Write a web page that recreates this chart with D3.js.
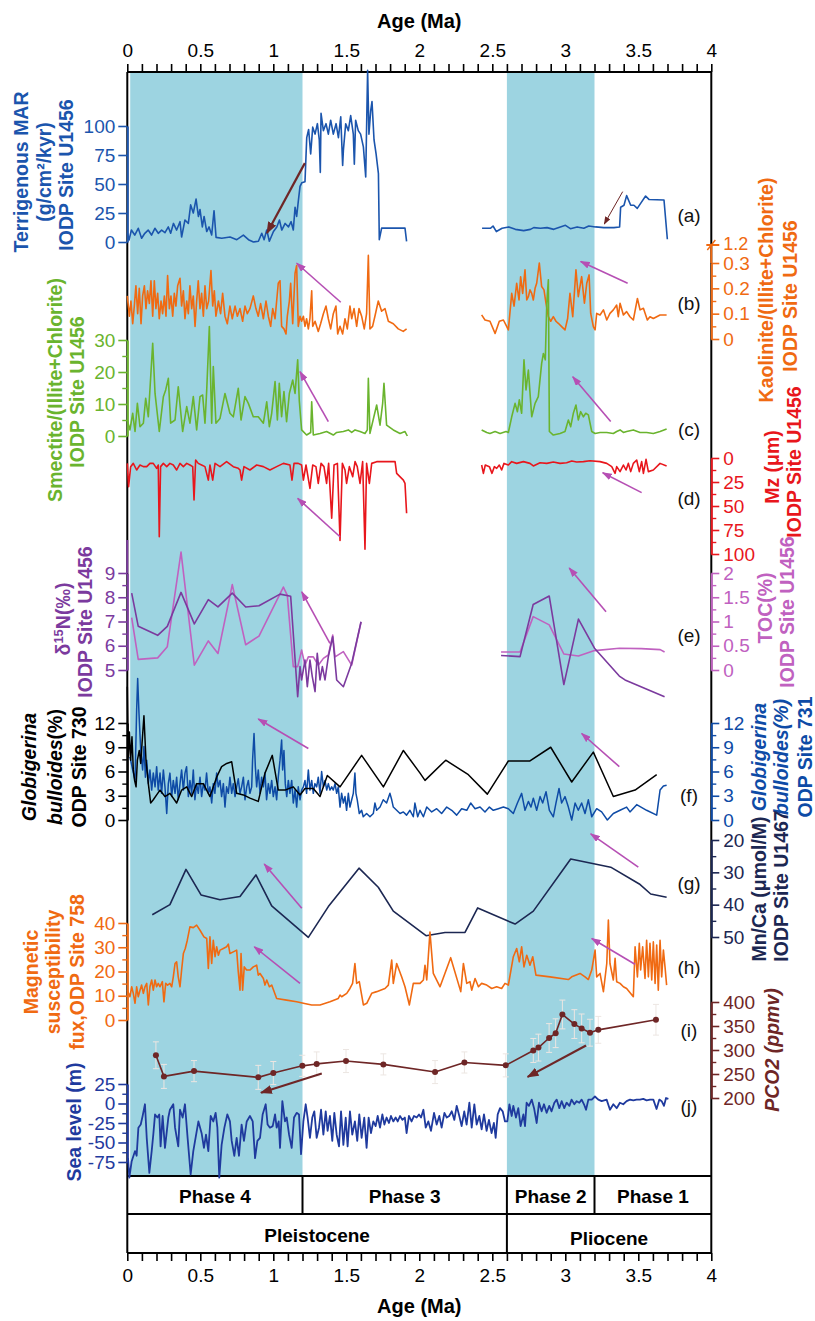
<!DOCTYPE html>
<html lang="en">
<head>
<meta charset="utf-8">
<title>Multi-proxy records vs Age (Ma)</title>
<script src="https://cdn.jsdelivr.net/npm/d3@7"></script>
<style>
  body { margin: 0; background: #fff; }
</style>
</head>
<body>
<div id="chart"></div>
<script>
// ---------- data ----------
var ageLabels = [0, 0.5, 1, 1.5, 2, 2.5, 3, 3.5, 4];
var shadeRanges = [[0.02, 1.2], [2.6, 3.2]];
var phaseNames = ["Phase 4", "Phase 3", "Phase 2", "Phase 1"];
var phaseBounds = [[0, 1.2], [1.2, 2.6], [2.6, 3.2], [3.2, 4]];
var epochNames = ["Pleistocene", "Pliocene"];
var epochBounds = [[0, 2.6], [2.6, 4]];
var panelLetters = ["(a)", "(b)", "(c)", "(d)", "(e)", "(f)", "(g)", "(h)", "(i)", "(j)"];

// (a) terrigenous MAR, IODP U1456
var marA1 = [[0,7.5],[0.012,1.7],[0.028,10.3],[0.051,6],[0.075,11.8],[0.098,3.2],[0.12,7.5],[0.143,10.3],[0.166,6],[0.189,11.8],[0.212,7.5],[0.235,10.3],[0.258,8],[0.281,13],[0.297,7.5],[0.316,16],[0.338,10.3],[0.361,17.5],[0.372,4.3],[0.395,19],[0.418,16],[0.434,32],[0.452,25],[0.471,37],[0.487,22],[0.498,28],[0.514,13],[0.526,22],[0.544,9],[0.56,13],[0.578,6],[0.594,27],[0.608,4],[0.647,3.2],[0.704,4.3],[0.75,2],[0.795,6],[0.83,2],[0.864,0],[0.898,0.6],[0.921,7.5],[0.937,2],[0.955,10.3],[0.973,0.6],[1.001,9],[1.024,13],[1.042,19],[1.058,10.3],[1.081,16],[1.104,13],[1.122,17.5],[1.137,10.3],[1.149,30],[1.16,22],[1.172,36],[1.183,48],[1.195,51],[1.217,52],[1.229,90],[1.242,97],[1.256,76],[1.27,99],[1.286,93],[1.302,102],[1.315,88],[1.322,60],[1.327,111],[1.343,96],[1.361,102],[1.377,93],[1.393,105],[1.411,93],[1.43,102],[1.446,90],[1.462,108],[1.475,66],[1.48,79],[1.496,102],[1.514,96],[1.53,109],[1.548,93],[1.555,67],[1.564,105],[1.582,96],[1.598,93],[1.617,82],[1.633,56],[1.646,148],[1.655,93],[1.667,113],[1.676,121],[1.69,88],[1.704,76],[1.72,59],[1.726,2],[1.742,12],[1.902,12],[1.913,0.6]];
var marA2 = [[2.43,11.8],[2.487,11.8],[2.505,13.8],[2.528,9],[2.567,11.8],[2.613,13],[2.658,10.9],[2.715,9.8],[2.761,10.9],[2.784,12.4],[2.83,11.8],[2.875,12.4],[2.921,10.9],[2.966,13],[3.001,14.4],[3.035,11.5],[3.081,13],[3.127,11.8],[3.161,13.8],[3.207,13],[3.264,12.4],[3.333,12.4],[3.372,13],[3.379,30],[3.402,31.7],[3.42,40],[3.448,31.7],[3.47,31.7],[3.493,29],[3.516,33.3],[3.55,39.6],[3.573,36.7],[3.676,36.2],[3.699,2.4]];

// (b) kaolinite/(illite+chlorite)
var kaol1 = [[0,0.17],[0.014,0.09],[0.025,0.15],[0.037,0.06],[0.048,0.13],[0.059,0.21],[0.071,0.10],[0.082,0.20],[0.094,0.06],[0.105,0.17],[0.117,0.21],[0.128,0.12],[0.139,0.19],[0.151,0.14],[0.162,0.23],[0.174,0.09],[0.185,0.23],[0.196,0.12],[0.208,0.18],[0.219,0.08],[0.231,0.15],[0.242,0.10],[0.254,0.17],[0.265,0.09],[0.276,0.25],[0.288,0.12],[0.299,0.17],[0.311,0.09],[0.322,0.18],[0.333,0.13],[0.345,0.21],[0.361,0.24],[0.372,0.13],[0.384,0.19],[0.395,0.08],[0.407,0.15],[0.418,0.10],[0.429,0.21],[0.441,0.12],[0.452,0.17],[0.464,0.05],[0.475,0.15],[0.486,0.23],[0.498,0.12],[0.509,0.18],[0.521,0.09],[0.532,0.21],[0.544,0.12],[0.557,0.15],[0.573,0.27],[0.585,0.13],[0.596,0.19],[0.607,0.09],[0.624,0.15],[0.639,0.10],[0.653,0.18],[0.669,0.09],[0.685,0.06],[0.703,0.13],[0.719,0.08],[0.738,0.13],[0.754,0.09],[0.772,0.12],[0.79,0.07],[0.806,0.13],[0.822,0.10],[0.84,0.12],[0.863,0.17],[0.881,0.12],[0.897,0.09],[0.913,0.14],[0.932,0.08],[0.95,0.15],[0.966,0.09],[0.982,0.05],[0.996,0.12],[1.012,0.08],[1.034,0.22],[1.046,0.23],[1.057,0.05],[1.073,0.04],[1.087,0.02],[1.096,0.09],[1.11,0.15],[1.119,0.22],[1.133,0.06],[1.149,0.26],[1.16,0.29],[1.171,0.05],[1.183,0.09],[1.194,0.07],[1.206,0.09],[1.217,0.05],[1.228,0.08],[1.24,0.04],[1.251,0.08],[1.263,0.19],[1.27,0.05],[1.286,0.07],[1.308,0.03],[1.324,0.06],[1.343,0.10],[1.361,0.13],[1.377,0.08],[1.393,0.04],[1.411,0.10],[1.429,0.13],[1.441,0.02],[1.457,0.05],[1.475,0.02],[1.491,0.08],[1.507,0.04],[1.525,0.13],[1.537,0.08],[1.553,0.12],[1.571,0.05],[1.587,0.12],[1.605,0.09],[1.623,0.04],[1.639,0.10],[1.651,0.33],[1.662,0.04],[1.68,0.05],[1.696,0.09],[1.719,0.15],[1.742,0.11],[1.765,0.12],[1.788,0.07],[1.822,0.06],[1.856,0.04],[1.89,0.03],[1.913,0.04]];
var kaol2 = [[2.427,0.095],[2.45,0.075],[2.484,0.07],[2.519,0.022],[2.548,0.07],[2.576,0.075],[2.594,0.055],[2.61,0.036],[2.633,0.18],[2.649,0.13],[2.667,0.22],[2.683,0.154],[2.694,0.246],[2.708,0.18],[2.724,0.273],[2.736,0.154],[2.747,0.167],[2.758,0.194],[2.77,0.18],[2.781,0.154],[2.793,0.2],[2.804,0.22],[2.822,0.3],[2.838,0.207],[2.854,0.194],[2.868,0.141],[2.884,0.088],[2.9,0.07],[2.918,0.088],[2.936,0.07],[2.952,0.062],[2.975,0.049],[2.998,0.036],[3.016,0.081],[3.032,0.18],[3.051,0.088],[3.073,0.273],[3.089,0.167],[3.112,0.246],[3.131,0.141],[3.147,0.22],[3.163,0.253],[3.174,0.101],[3.192,0.049],[3.204,0.036],[3.215,0.101],[3.238,0.095],[3.261,0.115],[3.284,0.075],[3.306,0.101],[3.329,0.115],[3.352,0.134],[3.363,0.088],[3.375,0.141],[3.398,0.095],[3.42,0.108],[3.443,0.088],[3.466,0.075],[3.494,0.16],[3.512,0.115],[3.535,0.121],[3.562,0.075],[3.58,0.088],[3.603,0.081],[3.649,0.095],[3.694,0.095]];

// (c) smectite/(illite+chlorite)
var smec1 = [[0,5],[0.018,1.9],[0.037,7.1],[0.053,1.4],[0.069,10.2],[0.087,2.9],[0.11,4],[0.126,11.8],[0.144,6],[0.174,29],[0.19,13.3],[0.219,1.4],[0.247,12.3],[0.263,14.4],[0.281,18],[0.297,4],[0.327,5],[0.349,15.4],[0.379,1.4],[0.407,9.2],[0.429,4],[0.452,12.3],[0.475,1.9],[0.498,12.3],[0.516,12.8],[0.532,4],[0.544,14.4],[0.562,34.2],[0.578,4],[0.589,21.7],[0.607,4],[0.635,5.5],[0.669,13.3],[0.703,7.1],[0.726,6],[0.76,14.9],[0.779,5],[0.806,12.3],[0.829,10.2],[0.863,6],[0.897,6],[0.932,4],[0.955,10.7],[0.973,2.9],[0.989,7.1],[1.012,17],[1.028,5],[1.041,16.5],[1.057,6],[1.073,13.9],[1.091,4.5],[1.11,13.3],[1.133,17.5],[1.149,13.3],[1.167,23.8],[1.178,11],[1.194,1.9],[1.228,0.3],[1.256,1.1],[1.263,10.7],[1.274,0.3],[1.32,0.8],[1.365,1.4],[1.411,0.3],[1.434,1.1],[1.48,1.4],[1.514,1.9],[1.537,1.1],[1.56,1.9],[1.594,1.4],[1.628,0.8],[1.644,1.9],[1.651,18],[1.662,0.8],[1.708,9.7],[1.731,3.4],[1.749,10.2],[1.758,16.5],[1.776,3.4],[1.822,1.9],[1.868,0.8],[1.902,1.4],[1.918,0]];
var smec2 = [[2.427,1.9],[2.462,1.1],[2.484,0.8],[2.519,1.4],[2.553,0.8],[2.594,1.4],[2.61,1.1],[2.633,6],[2.656,10.2],[2.672,7.6],[2.685,11.3],[2.701,7.1],[2.717,23.8],[2.731,14.4],[2.747,20.6],[2.77,6],[2.793,10.2],[2.815,12.3],[2.838,22.7],[2.85,25.8],[2.863,23.8],[2.873,41.5],[2.884,48.8],[2.891,1.4],[2.918,0.3],[2.964,0.8],[2.998,1.4],[3.021,5],[3.037,2.9],[3.055,7.1],[3.073,9.7],[3.089,5],[3.105,7.6],[3.124,6],[3.14,7.1],[3.158,6.6],[3.181,1.4],[3.204,0.8],[3.238,1.1],[3.284,1.1],[3.329,0.8],[3.352,1.4],[3.375,1.9],[3.398,1.1],[3.42,1.4],[3.466,1.9],[3.512,1.1],[3.557,1.1],[3.603,0.8],[3.649,1.4],[3.694,2.2]];

// (d) mean grain size Mz (um)
var mz1 = [[0,5.6],[0.009,29.9],[0.023,9],[0.041,5.6],[0.064,12.5],[0.087,7.3],[0.11,9],[0.133,9],[0.155,5.6],[0.178,5.6],[0.201,10.8],[0.212,7.3],[0.219,81.9],[0.228,9],[0.247,5.6],[0.27,9],[0.292,5.6],[0.315,7.3],[0.338,12.5],[0.361,5.6],[0.384,9],[0.407,5.6],[0.429,7.3],[0.448,9],[0.457,43.7],[0.468,2.1],[0.486,5.6],[0.509,7.3],[0.532,9],[0.555,23],[0.566,7.3],[0.585,23],[0.601,5.6],[0.635,9],[0.68,3.8],[0.726,9],[0.76,10.8],[0.772,12.5],[0.783,23],[0.799,9],[0.84,12.5],[0.886,7.3],[0.932,9],[0.977,12.5],[1.023,9],[1.069,5.6],[1.114,7.3],[1.128,23],[1.142,5.6],[1.171,5.6],[1.194,7.3],[1.206,23],[1.224,7.3],[1.251,31.6],[1.27,7.3],[1.292,9],[1.308,26.4],[1.327,5.6],[1.347,9],[1.365,26.4],[1.379,5.6],[1.4,62.8],[1.416,7.3],[1.439,5.6],[1.457,86],[1.473,5.6],[1.491,12.5],[1.502,26.4],[1.521,9],[1.544,19.4],[1.56,3.8],[1.575,9],[1.594,26.4],[1.612,3.8],[1.628,95],[1.639,5.6],[1.658,26.4],[1.674,5.6],[1.708,3.8],[1.754,3.8],[1.799,3.8],[1.834,3.8],[1.845,16],[1.891,23],[1.902,26.4],[1.913,57.6]];
var mz2 = [[2.427,7.3],[2.439,16],[2.452,7.3],[2.48,9],[2.498,16],[2.514,9],[2.53,10.8],[2.548,7.3],[2.564,12.5],[2.58,5.6],[2.61,7.3],[2.633,3.8],[2.667,5.6],[2.713,3.8],[2.758,5.6],[2.781,8.3],[2.827,4.9],[2.873,5.6],[2.918,4.2],[2.964,5.6],[3.009,4.9],[3.044,3.1],[3.078,4.2],[3.124,3.8],[3.169,2.8],[3.238,3.8],[3.284,5.6],[3.318,9],[3.341,16],[3.352,9],[3.375,14.2],[3.398,7.3],[3.416,12.5],[3.432,5.6],[3.448,14.2],[3.466,5.6],[3.489,2.1],[3.507,14.2],[3.523,3.8],[3.535,16],[3.553,1.4],[3.569,14.2],[3.603,12.5],[3.649,5.6],[3.694,8.3]];

// (e) d15N (permil) and TOC (%)
var d15n1 = [[0.03,8.17],[0.075,6.8],[0.208,6.43],[0.274,6.8],[0.368,8.2],[0.459,6.9],[0.555,7.9],[0.621,7.6],[0.719,8.17],[0.811,7.6],[0.902,7.65],[1.046,8.13],[1.119,8.04],[1.167,3.9],[1.183,5.14],[1.194,4.59],[1.217,5.41],[1.233,4.31],[1.251,5.41],[1.267,4.73],[1.286,4.11],[1.301,5.69],[1.32,4.59],[1.336,5.14],[1.354,4.59],[1.377,5.55],[1.407,6.37],[1.434,4.59],[1.48,4.31],[1.537,5.28],[1.601,6.99]];
var d15n2 = [[2.56,5.6],[2.69,5.55],[2.78,7.7],[2.89,8.05],[2.99,4.4],[3.09,7.1],[3.2,5.9],[3.37,4.75],[3.409,4.59],[3.68,3.9]];
var toc1 = [[0.03,1.08],[0.075,0.22],[0.208,0.25],[0.274,0.48],[0.368,2.43],[0.459,0.1],[0.555,0.6],[0.621,0.34],[0.719,1.76],[0.811,0.52],[0.902,0.7],[1.069,1.71],[1.096,1.54],[1.137,0.07],[1.167,0.07],[1.194,0.41],[1.217,0.1],[1.24,0.27],[1.274,0.27],[1.308,0.1],[1.343,0.24],[1.377,0.31],[1.407,0.72],[1.423,0.27],[1.48,0.38],[1.537,0.1],[1.601,0.99]];
var toc2 = [[2.56,0.37],[2.69,0.37],[2.78,1.1],[2.89,0.93],[2.99,0.33],[3.09,0.29],[3.2,0.4],[3.37,0.45],[3.52,0.44],[3.65,0.42],[3.68,0.37]];

// (f) Globigerina bulloides (%), ODP 730 and ODP 731
var bull730 = [[0,16.5],[0.007,7.8],[0.014,10.9],[0.023,7.4],[0.032,10.3],[0.041,6.2],[0.05,4.9],[0.06,4.1],[0.069,7.4],[0.082,8.6],[0.092,7],[0.101,9.5],[0.114,12.9],[0.128,7.4],[0.144,4.5],[0.16,2.1],[0.178,2.5],[0.201,3.1],[0.224,3.7],[0.258,2.9],[0.292,3.3],[0.338,2.1],[0.372,3.7],[0.407,4.1],[0.441,2.9],[0.475,4.5],[0.521,4.5],[0.566,2.9],[0.612,5.3],[0.646,6.6],[0.681,7],[0.715,7.2],[0.749,3.3],[0.795,3.1],[0.84,2.7],[0.897,2.3],[0.943,5.8],[0.993,8],[1.034,3.7],[1.08,3.7],[1.137,4.1],[1.183,3.1],[1.217,3.9],[1.274,3.9],[1.32,2.9],[1.37,5.5],[1.457,4.1],[1.605,8],[1.754,4.1],[1.891,8.6],[2.005,5.8],[2.039,4.9],[2.181,7.4],[2.336,5.6],[2.466,3.2],[2.61,7.3],[2.758,7.3],[2.9,9],[3.044,4.7],[3.192,8.4],[3.329,2.9],[3.478,3.7],[3.626,5.6]];
var bull731 = [[0.018,7.8],[0.037,6.2],[0.053,4.9],[0.064,13.6],[0.071,17.5],[0.08,13.2],[0.092,8.6],[0.105,6.2],[0.114,9.1],[0.124,5.3],[0.133,7.4],[0.144,4.5],[0.155,6.2],[0.167,3.7],[0.178,5.8],[0.19,4.1],[0.201,6.6],[0.212,3.7],[0.224,5.8],[0.235,3.3],[0.247,6.2],[0.258,4.1],[0.27,0.8],[0.281,4.5],[0.292,5.8],[0.304,2.9],[0.315,4.9],[0.327,3.3],[0.338,5.3],[0.349,2.5],[0.361,4.5],[0.372,6.2],[0.384,3.7],[0.395,5.8],[0.406,6.6],[0.418,2.9],[0.429,4.9],[0.441,3.3],[0.452,6.2],[0.463,2.5],[0.475,4.5],[0.486,3.3],[0.498,5.3],[0.509,2.9],[0.521,4.5],[0.532,3.7],[0.543,5.8],[0.555,3.3],[0.566,4.1],[0.578,2.1],[0.589,4.5],[0.6,3.3],[0.612,5.8],[0.623,4.1],[0.635,4.9],[0.646,2.9],[0.658,4.5],[0.669,1.6],[0.68,4.1],[0.692,3.3],[0.703,5.3],[0.715,3.3],[0.726,4.5],[0.738,2.9],[0.749,4.1],[0.76,5.1],[0.772,3.3],[0.783,4.1],[0.795,5.3],[0.806,2.5],[0.818,4.1],[0.829,4.9],[0.84,3.3],[0.852,4.1],[0.858,7.4],[0.868,10.7],[0.877,6.6],[0.886,4.1],[0.897,6.2],[0.909,3.3],[0.92,5.3],[0.932,4.1],[0.943,5.8],[0.954,2.5],[0.966,4.5],[0.977,3.3],[0.989,4.9],[1,2.9],[1.012,4.1],[1.023,2.5],[1.034,5.3],[1.046,7.4],[1.057,9.9],[1.064,6.2],[1.073,8.6],[1.082,4.5],[1.092,2.9],[1.103,4.9],[1.114,3.3],[1.126,4.9],[1.137,2.1],[1.149,3.7],[1.16,1.6],[1.171,4.1],[1.183,2.5],[1.194,3.7],[1.206,4.1],[1.217,4.9],[1.228,3.3],[1.24,6.2],[1.251,3.7],[1.263,4.9],[1.274,3.3],[1.285,4.5],[1.297,4.1],[1.308,5.3],[1.32,3.3],[1.331,6],[1.343,4.1],[1.354,4.9],[1.366,3.7],[1.377,4.5],[1.388,3.7],[1.4,4.1],[1.411,3.7],[1.423,4.5],[1.434,3.3],[1.445,4.1],[1.457,1.6],[1.468,3.3],[1.48,2.1],[1.491,2.9],[1.502,1.2],[1.514,3.3],[1.525,1.6],[1.537,2.5],[1.548,3.3],[1.559,5.8],[1.566,3.3],[1.575,2.5],[1.589,0.8],[1.605,1.2],[1.616,0.4],[1.639,0.8],[1.662,0.4],[1.685,0.8],[1.696,2.1],[1.708,1.2],[1.731,1.6],[1.753,2.5],[1.776,2.1],[1.799,3.3],[1.811,2.5],[1.822,1.6],[1.845,1.2],[1.868,0.8],[1.891,1],[1.913,0.6],[1.936,1.2],[1.959,0.4],[1.97,2.1],[1.989,0.4],[2.005,1.2],[2.028,0.4],[2.051,1.6],[2.085,1],[2.119,1.4],[2.153,0.8],[2.188,1.6],[2.222,1.2],[2.256,0.6],[2.29,1.4],[2.325,1.2],[2.352,2.1],[2.382,1.4],[2.416,1.6],[2.45,1],[2.48,1.6],[2.507,1.2],[2.541,1.4],[2.576,1.6],[2.61,1.4],[2.644,0.8],[2.672,2.1],[2.701,3.3],[2.724,1.2],[2.747,2.3],[2.765,1.6],[2.781,2.7],[2.804,1.2],[2.827,2.9],[2.845,2.1],[2.868,3.5],[2.891,1.2],[2.918,0.4],[2.936,2.1],[2.957,3.9],[2.975,2.1],[2.998,2.9],[3.021,1.6],[3.044,0],[3.067,2.1],[3.089,1.2],[3.112,2.1],[3.135,0.8],[3.158,2.5],[3.181,0.4],[3.215,1.4],[3.249,1],[3.288,0],[3.329,0.8],[3.375,1.2],[3.42,1.6],[3.443,1],[3.489,1.9],[3.557,1.2],[3.626,0.6],[3.649,3.7],[3.672,4.2],[3.694,4.3]];

// (g) Mn/Ca, IODP U1467
var mnca = [[0.171,43.1],[0.292,40],[0.402,29.1],[0.505,37],[0.635,38.5],[0.772,37.5],[0.881,30.8],[0.989,40.4],[1.24,50.1],[1.377,40.6],[1.587,28.7],[1.719,34.6],[1.822,42],[2.046,49.6],[2.176,48.6],[2.313,48.6],[2.4,41],[2.656,46],[2.781,42],[3.037,25.9],[3.311,28.4],[3.507,33.6],[3.585,36.7],[3.694,37.7]];

// (h) magnetic susceptibility flux, ODP 758
var magsus = [[0,12.3],[0.018,9.6],[0.03,13.7],[0.041,11],[0.053,6.9],[0.064,13.7],[0.075,9.6],[0.087,12.3],[0.098,14.4],[0.11,11],[0.121,13.7],[0.133,15.1],[0.144,6.2],[0.155,13.7],[0.167,16.5],[0.178,12.3],[0.19,16.5],[0.201,13.7],[0.212,15.1],[0.224,13.7],[0.24,15.8],[0.251,7.5],[0.263,15.1],[0.276,14.4],[0.292,15.1],[0.304,13.7],[0.315,17.8],[0.327,23.3],[0.338,24],[0.349,17.8],[0.361,13.7],[0.372,20.6],[0.384,27.4],[0.397,29.5],[0.411,32.9],[0.429,38.4],[0.452,38.1],[0.475,39.1],[0.498,37],[0.525,34.3],[0.544,33.6],[0.555,21.3],[0.566,34.3],[0.578,23.3],[0.589,32.9],[0.601,26.1],[0.612,30.2],[0.624,26.7],[0.635,28.8],[0.658,29.5],[0.68,30.2],[0.692,31.3],[0.703,27.4],[0.726,28.1],[0.749,28.8],[0.76,19.9],[0.772,12.3],[0.779,27.4],[0.79,12.3],[0.801,21.9],[0.817,20.6],[0.84,20.6],[0.863,21.9],[0.886,22.6],[0.897,18.5],[0.909,19.2],[0.932,17.1],[0.943,14.4],[0.955,16.5],[0.973,13.7],[0.989,14.4],[1.023,8.9],[1.091,8.2],[1.16,7.5],[1.206,6.9],[1.263,6.2],[1.32,6.2],[1.388,7.5],[1.445,8.9],[1.457,10.3],[1.468,9.6],[1.503,11],[1.525,13],[1.543,15.1],[1.559,23.3],[1.571,15.1],[1.589,15.8],[1.617,6.2],[1.64,6.9],[1.674,11],[1.708,11.7],[1.765,13],[1.788,14.4],[1.811,24.7],[1.822,15.1],[1.845,23.3],[1.879,17.8],[1.902,13.7],[1.932,6.2],[1.959,15.1],[2.005,15.1],[2.028,16.5],[2.039,22.6],[2.051,16.5],[2.073,36.3],[2.096,19.2],[2.142,13.7],[2.215,25.7],[2.284,11.7],[2.302,23.3],[2.325,15.1],[2.347,15.8],[2.359,12.3],[2.382,17.1],[2.405,13.7],[2.427,15.1],[2.462,14.4],[2.496,13],[2.53,13.7],[2.564,13],[2.587,15.1],[2.61,14.4],[2.644,26.1],[2.667,29.5],[2.685,24],[2.701,30.2],[2.717,21.9],[2.736,26.7],[2.758,22.6],[2.777,26.1],[2.799,18.5],[2.895,17.8],[3.021,16.7],[3.044,17.8],[3.101,19.2],[3.135,17.8],[3.158,16.7],[3.181,20.6],[3.204,28.8],[3.215,17.8],[3.238,19.2],[3.261,11.7],[3.284,23.3],[3.295,41.2],[3.306,23.3],[3.329,16.5],[3.341,25.4],[3.352,15.8],[3.375,15.1],[3.398,13.7],[3.42,13],[3.466,9.6],[3.478,30.2],[3.494,17.8],[3.507,31.6],[3.516,20.6],[3.53,30.2],[3.546,17.1],[3.557,32.9],[3.569,17.8],[3.58,31.6],[3.592,16.5],[3.603,32.2],[3.615,15.1],[3.626,30.9],[3.637,12.3],[3.649,32.9],[3.66,17.8],[3.672,28.8],[3.683,21.9],[3.694,14.4]];

// (i) pCO2 (ppmv) with error
var pco2 = [[0.196,289],[0.251,245],[0.457,256],[0.897,243],[1.0,252],[1.199,267],[1.297,271],[1.498,277],[1.754,270],[2.108,254],[2.309,274],[2.592,268],[2.781,299],[2.816,305],[2.889,325],[2.934,335],[2.98,374],[3.062,354],[3.112,345],[3.169,336],[3.226,342],[3.621,363]];
var pco2Err = [28, 25, 22, 25, 24, 22, 25, 24, 22, 24, 22, 24, 25, 28, 30, 30, 30, 30, 30, 28, 28, 32];

// (j) sea level (m)
var seaLevel = [[0.005,-70],[0.014,-95],[0.03,-74],[0.053,-61],[0.064,-67],[0.076,-31],[0.092,-27],[0.105,-16],[0.121,-1],[0.133,-44],[0.151,-89],[0.167,-61],[0.178,-40],[0.19,-14],[0.206,-18],[0.219,-14],[0.228,-55],[0.242,-16],[0.258,-57],[0.281,-18],[0.292,-8],[0.315,-1],[0.327,-31],[0.349,-55],[0.361,-8],[0.379,-18],[0.395,-1],[0.413,-44],[0.434,-91],[0.452,-61],[0.487,-23],[0.509,-38],[0.525,-57],[0.539,-40],[0.555,-61],[0.571,-16],[0.589,-23],[0.605,-12],[0.617,-31],[0.63,-95],[0.646,-53],[0.665,-31],[0.685,-14],[0.703,-23],[0.715,-48],[0.733,-67],[0.749,-44],[0.765,-67],[0.783,-27],[0.799,-48],[0.818,-23],[0.84,-16],[0.859,-23],[0.875,-70],[0.891,-48],[0.909,-44],[0.927,-14],[0.948,-1],[0.961,-27],[0.977,-31],[0.996,-29],[1.012,-14],[1.023,-31],[1.037,-23],[1.046,-57],[1.062,3],[1.08,-23],[1.092,-18],[1.108,-40],[1.126,-57],[1.142,-18],[1.16,-12],[1.176,-14],[1.19,-65],[1.206,-23],[1.222,-1],[1.235,-18],[1.251,-44],[1.267,-18],[1.281,-10],[1.297,-44],[1.313,-31],[1.327,-8],[1.343,-40],[1.359,-10],[1.372,-35],[1.388,-16],[1.404,-48],[1.418,-12],[1.434,-40],[1.45,-55],[1.464,-10],[1.48,-53],[1.496,-18],[1.509,-55],[1.525,-10],[1.541,-40],[1.559,-23],[1.575,-48],[1.589,-14],[1.605,-44],[1.623,-18],[1.639,-57],[1.653,-18],[1.669,-38],[1.685,-23],[1.701,-29],[1.715,-16],[1.731,-31],[1.747,-14],[1.761,-27],[1.776,-18],[1.792,-25],[1.806,-16],[1.822,-23],[1.838,-18],[1.852,-23],[1.868,-16],[1.884,-21],[1.901,-18],[1.913,-38],[1.929,-16],[1.947,-23],[1.964,-16],[1.982,-18],[1.998,-14],[2.012,-18],[2.028,-8],[2.044,-31],[2.062,-23],[2.08,-35],[2.101,-12],[2.119,-27],[2.137,-16],[2.153,-31],[2.172,-12],[2.188,-18],[2.205,-16],[2.222,-10],[2.24,-21],[2.256,-3],[2.274,-16],[2.29,-29],[2.308,-10],[2.324,-27],[2.343,1],[2.359,-31],[2.377,-1],[2.393,-27],[2.411,-16],[2.427,-33],[2.443,-14],[2.461,-35],[2.477,-21],[2.495,-38],[2.511,-25],[2.523,-44],[2.537,-14],[2.553,-6],[2.571,-10],[2.587,-23],[2.603,-23],[2.617,-1],[2.633,-16],[2.644,-3],[2.662,-18],[2.678,-6],[2.694,-29],[2.713,-14],[2.724,-29],[2.735,1],[2.751,-3],[2.77,5],[2.786,-6],[2.804,-25],[2.82,1],[2.838,-10],[2.854,-1],[2.872,-12],[2.89,-3],[2.906,-10],[2.925,1],[2.941,5],[2.959,-6],[2.975,3],[2.993,-6],[3.009,1],[3.028,-3],[3.043,5],[3.062,-1],[3.078,3],[3.096,1],[3.112,5],[3.128,-1],[3.142,-8],[3.158,5],[3.181,5],[3.203,9],[3.226,5],[3.249,3],[3.283,5],[3.306,-8],[3.329,-1],[3.352,-6],[3.374,1],[3.397,-1],[3.42,3],[3.443,5],[3.466,4],[3.488,5],[3.511,5],[3.534,6],[3.557,4],[3.58,5],[3.603,5],[3.625,-7],[3.644,5],[3.66,3],[3.676,-3],[3.69,7],[3.706,6]];

// trend arrows: [panel, fromAge, fromValue, toAge, toValue]
var pinkArrows = [["b",1.462,0.145,1.16,0.299],["b",3.427,0.22,3.105,0.306],["c",1.377,4.5,1.183,20.1],["c",3.311,4.5,3.051,18.5],["d",1.457,82,1.167,42],["d",3.523,36.1,3.256,15.3],["e",1.388,6.1,1.195,8.22],["e",3.279,7.4,3.027,9.21],["f",1.24,8.85,0.897,12.5],["f",3.37,6.6,3.112,10.7],["g",1.195,41.1,0.938,27.4],["g",3.5,28.4,3.174,18.1],["h",1.183,15.1,0.87,30.2],["h",3.477,23,3.181,33.6]];
var brownArrows = [["a",1.216,68,0.957,7.8],["i",1.332,251,0.916,211],["i",3.142,309.5,2.742,244]];
var brownThinArrows = [["a",3.393,43.4,3.267,15.5]];

// ---------- layout ----------
var FONT = "Arial, 'Liberation Sans', Helvetica, sans-serif";
var W = 815, H = 1321;
var plotTop = 72, plotBottom = 1176, phaseBottom = 1214, epochBottom = 1253;

var cMAR = "#1b55ad", cOrange = "#f06a12", cGreen = "#6ab42e", cRed = "#e8161c",
    cPurple = "#7b3a9e", cPink = "#c061c0", cBlue731 = "#0e4ba6", cNavy = "#1c2752",
    cMaroon = "#6e2626", cSea = "#1f3a9e", cArrow = "#b64fb4", cShade = "#9dd4e1";

var svg = d3.select("#chart").append("svg").attr("width", W).attr("height", H)
  .style("font-family", FONT);

var x = d3.scaleLinear().domain([0, 4]).range([127.3, 711.3]);
var X0 = x(0), X1 = x(4);

var yA = d3.scaleLinear().domain([0, 100]).range([242, 126]);
var yB = d3.scaleLinear().domain([0, 0.3]).range([339, 263]);
var yC = d3.scaleLinear().domain([0, 30]).range([436, 340]);
var yD = d3.scaleLinear().domain([0, 100]).range([458, 554]);
var yE = d3.scaleLinear().domain([5, 9]).range([670, 573]);
var yT = d3.scaleLinear().domain([0, 2]).range([670, 573]);
var yF = d3.scaleLinear().domain([0, 12]).range([820, 723]);
var yG = d3.scaleLinear().domain([20, 50]).range([840, 937]);
var yH = d3.scaleLinear().domain([0, 40]).range([1020, 923]);
var yI = d3.scaleLinear().domain([200, 400]).range([1098, 1002]);
var yJ = d3.scaleLinear().domain([-75, 25]).range([1162, 1084]);
var panelScale = {a: yA, b: yB, c: yC, d: yD, e: yE, f: yF, g: yG, h: yH, i: yI, j: yJ};

// shaded phases
shadeRanges.forEach(function (r) {
  svg.append("rect").attr("x", x(r[0])).attr("y", plotTop)
    .attr("width", x(r[1]) - x(r[0])).attr("height", plotBottom - plotTop)
    .attr("fill", cShade);
});

// frame
function hline(y, x1, x2) {
  svg.append("line").attr("x1", x1).attr("x2", x2).attr("y1", y).attr("y2", y)
    .attr("stroke", "#000").attr("stroke-width", 2);
}
function vline(xp, y1, y2) {
  svg.append("line").attr("x1", xp).attr("x2", xp).attr("y1", y1).attr("y2", y2)
    .attr("stroke", "#000").attr("stroke-width", 2);
}
[plotTop, plotBottom, phaseBottom, epochBottom].forEach(function (y) { hline(y, X0, X1); });
vline(X0, plotTop, epochBottom);
vline(X1, plotTop, epochBottom);
phaseBounds.slice(1).forEach(function (b) {
  var a = b[0];
  vline(x(a), plotBottom, epochBounds.some(function (e) { return e[0] === a; }) ? epochBottom : phaseBottom);
});

// phase and epoch names
phaseNames.forEach(function (n, i) {
  svg.append("text").attr("x", x((phaseBounds[i][0] + phaseBounds[i][1]) / 2)).attr("y", 1203)
    .attr("text-anchor", "middle").attr("font-size", 19).attr("font-weight", "bold").text(n);
});
epochNames.forEach(function (n, i) {
  svg.append("text").attr("x", x((epochBounds[i][0] + epochBounds[i][1]) / 2)).attr("y", i === 0 ? 1242 : 1245)
    .attr("text-anchor", "middle").attr("font-size", 19).attr("font-weight", "bold").text(n);
});

// x axes (top and bottom)
var minorAges = d3.range(0, 41).map(function (i) { return i / 10; });
function ageFmt(d) { return ageLabels.indexOf(d) >= 0 ? String(d) : ""; }
var gTop = svg.append("g").attr("transform", "translate(0," + plotTop + ")")
  .call(d3.axisTop(x).tickValues(minorAges).tickSize(8).tickPadding(7).tickFormat(ageFmt));
var gBot = svg.append("g").attr("transform", "translate(0," + epochBottom + ")")
  .call(d3.axisBottom(x).tickValues(minorAges).tickSize(8).tickPadding(8).tickFormat(ageFmt));
[gTop, gBot].forEach(function (g) {
  g.attr("font-size", 19).attr("font-family", FONT);
  g.select(".domain").remove();
  g.selectAll(".tick line").attr("stroke", "#000").attr("stroke-width", 1.6);
  g.selectAll(".tick text").attr("fill", "#000");
});
svg.append("text").attr("x", (X0 + X1) / 2).attr("y", 28).attr("text-anchor", "middle")
  .attr("font-size", 20).attr("font-weight", "bold").text("Age (Ma)");
svg.append("text").attr("x", (X0 + X1) / 2).attr("y", 1313).attr("text-anchor", "middle")
  .attr("font-size", 20).attr("font-weight", "bold").text("Age (Ma)");

// series
function drawLine(data, y, color, width) {
  svg.append("path").datum(data)
    .attr("fill", "none").attr("stroke", color).attr("stroke-width", width || 1.6)
    .attr("stroke-linejoin", "round")
    .attr("d", d3.line().x(function (d) { return x(d[0]); }).y(function (d) { return y(d[1]); }));
}
drawLine(marA1, yA, cMAR); drawLine(marA2, yA, cMAR);
drawLine(kaol1, yB, cOrange); drawLine(kaol2, yB, cOrange);
drawLine(smec1, yC, cGreen); drawLine(smec2, yC, cGreen);
drawLine(mz1, yD, cRed); drawLine(mz2, yD, cRed);
drawLine(toc1, yT, cPink); drawLine(toc2, yT, cPink);
drawLine(d15n1, yE, cPurple); drawLine(d15n2, yE, cPurple);
drawLine(bull731, yF, cBlue731, 1.5);
drawLine(bull730, yF, "#000", 1.5);
drawLine(mnca, yG, cNavy);
drawLine(magsus, yH, cOrange);

// pCO2 error bars, line and points
var errG = svg.append("g").attr("stroke", "#ece6e2").attr("stroke-width", 1);
pco2.forEach(function (d, i) {
  var xx = x(d[0]), y1 = yI(d[1] - pco2Err[i]), y2 = yI(d[1] + pco2Err[i]);
  errG.append("line").attr("x1", xx).attr("x2", xx).attr("y1", y1).attr("y2", y2);
  errG.append("line").attr("x1", xx - 3).attr("x2", xx + 3).attr("y1", y1).attr("y2", y1);
  errG.append("line").attr("x1", xx - 3).attr("x2", xx + 3).attr("y1", y2).attr("y2", y2);
});
drawLine(pco2, yI, cMaroon, 1.6);
svg.append("g").selectAll("circle").data(pco2).join("circle")
  .attr("cx", function (d) { return x(d[0]); }).attr("cy", function (d) { return yI(d[1]); })
  .attr("r", 3).attr("fill", cMaroon);

drawLine(seaLevel, yJ, cSea, 1.8);

// y axes
function yAxis(side, scale, major, minor, color) {
  var xp = side === "left" ? X0 : X1;
  var gen = side === "left" ? d3.axisLeft : d3.axisRight;
  var g = svg.append("g").attr("transform", "translate(" + xp + ",0)")
    .call(gen(scale).tickValues(major).tickSize(side === "left" ? 9 : 8).tickSizeOuter(0)
      .tickPadding(side === "left" ? 3 : 4).tickFormat(function (d) { return String(d); }));
  g.attr("font-size", 19).attr("font-family", FONT);
  g.select(".domain").attr("stroke", color).attr("stroke-width", 2);
  g.selectAll(".tick line").attr("stroke", color).attr("stroke-width", 1.6);
  g.selectAll(".tick text").attr("fill", color);
  if (minor) {
    var m = svg.append("g").attr("transform", "translate(" + xp + ",0)")
      .call(gen(scale).tickValues(minor).tickSize(5).tickSizeOuter(0).tickFormat(""));
    m.select(".domain").remove();
    m.selectAll(".tick line").attr("stroke", color).attr("stroke-width", 1.4);
  }
  return g;
}
yAxis("left", yA, [0, 25, 50, 75, 100], null, cMAR);
yAxis("right", yB, [0, 0.1, 0.2, 0.3], [0.05, 0.15, 0.25], cOrange);
yAxis("left", yC, [0, 10, 20, 30], [5, 15, 25], cGreen);
yAxis("right", yD, [0, 25, 50, 75, 100], [12.5, 37.5, 62.5, 87.5], cRed);
yAxis("left", yE, [5, 6, 7, 8, 9], [5.5, 6.5, 7.5, 8.5], cPurple);
yAxis("right", yT, [0, 0.5, 1, 1.5, 2], [0.25, 0.75, 1.25, 1.75], cPink);
yAxis("left", yF, [0, 3, 6, 9, 12], [1.5, 4.5, 7.5, 10.5], "#000");
yAxis("right", yF, [0, 3, 6, 9, 12], [1.5, 4.5, 7.5, 10.5], cBlue731);
yAxis("right", yG, [20, 30, 40, 50], [25, 35, 45], cNavy);
yAxis("left", yH, [0, 10, 20, 30, 40], [5, 15, 25, 35], cOrange);
yAxis("right", yI, [200, 250, 300, 350, 400], [225, 275, 325, 375], cMaroon);
yAxis("left", yJ, [-75, -50, -25, 0, 25], [-62.5, -37.5, -12.5, 12.5], cSea);

// broken top of the kaolinite axis (value 1.2) and extended d15N spine
svg.append("line").attr("x1", X1).attr("x2", X1).attr("y1", 245).attr("y2", yB(0.3))
  .attr("stroke", cOrange).attr("stroke-width", 2);
svg.append("line").attr("x1", X1 - 5).attr("x2", X1 + 8).attr("y1", 245).attr("y2", 245)
  .attr("stroke", cOrange).attr("stroke-width", 2);
svg.append("line").attr("x1", X1 - 4).attr("x2", X1 + 4).attr("y1", 250).attr("y2", 240)
  .attr("stroke", cOrange).attr("stroke-width", 1.4);
svg.append("text").attr("x", X1 + 12).attr("y", 245).attr("dy", "0.3em")
  .attr("font-size", 18).attr("fill", cOrange).text("1.2");
svg.append("line").attr("x1", X0).attr("x2", X0).attr("y1", 540).attr("y2", yE(9))
  .attr("stroke", cPurple).attr("stroke-width", 2);

// arrows
var defs = svg.append("defs");
function marker(id, color, w, h) {
  defs.append("marker").attr("id", id).attr("viewBox", "0 0 10 10").attr("refX", 9).attr("refY", 5)
    .attr("markerWidth", w).attr("markerHeight", h).attr("markerUnits", "userSpaceOnUse")
    .attr("preserveAspectRatio", "none").attr("orient", "auto")
    .append("path").attr("d", "M0,0L10,5L0,10z").attr("fill", color);
}
marker("headPink", cArrow, 10, 7);
marker("headBrown", cMaroon, 12, 9);
marker("headBrownThin", cMaroon, 8, 6);
function drawArrows(list, color, width, head) {
  list.forEach(function (a) {
    var s = panelScale[a[0]];
    svg.append("line").attr("x1", x(a[1])).attr("y1", s(a[2])).attr("x2", x(a[3])).attr("y2", s(a[4]))
      .attr("stroke", color).attr("stroke-width", width).attr("marker-end", "url(#" + head + ")");
  });
}
drawArrows(pinkArrows, cArrow, 1.6, "headPink");
drawArrows(brownArrows, cMaroon, 2.2, "headBrown");
drawArrows(brownThinArrows, cMaroon, 1, "headBrownThin");

// panel letters
var letterY = [215, 303, 429, 498, 635, 795, 883, 967, 1030, 1106];
panelLetters.forEach(function (t, i) {
  svg.append("text").attr("x", 689).attr("y", letterY[i]).attr("dy", "0.35em")
    .attr("text-anchor", "middle").attr("font-size", 19).attr("fill", "#111").text(t);
});

// rotated axis titles
function vlabel(xb, yc, color, parts, italicAll) {
  var t = svg.append("text").attr("transform", "translate(" + xb + "," + yc + ") rotate(-90)")
    .attr("text-anchor", "middle").attr("fill", color).attr("font-size", 19.5).attr("font-weight", "bold");
  if (italicAll) t.attr("font-style", "italic");
  var shift = 0;
  parts.forEach(function (p) {
    if (typeof p === "string") p = {t: p};
    var s = t.append("tspan").text(p.t);
    if (p.i) s.attr("font-style", "italic");
    if (p.sup) { s.attr("font-size", 13).attr("dy", -7); shift = 7; }
    else if (shift) { s.attr("dy", shift); shift = 0; }
  });
}
// left
vlabel(28, 172, cMAR, ["Terrigenous MAR"]);
vlabel(51, 172, cMAR, ["(g/cm\u00b2/kyr)"]);
vlabel(73, 175, cMAR, ["IODP Site U1456"]);
vlabel(62, 390, cGreen, ["Smectite/(Illite+Chlorite)"]);
vlabel(84, 392, cGreen, ["IODP Site U1456"]);
vlabel(70, 619, cPurple, ["\u03b4", {t: "15", sup: true}, "N(\u2030)"]);
vlabel(92, 622, cPurple, ["IODP Site U1456"]);
vlabel(36, 767, "#000", [{t: "Globigerina", i: true}]);
vlabel(62, 767, "#000", [{t: "bulloides", i: true}, "(%)"]);
vlabel(86, 767, "#000", ["ODP Site 730"]);
vlabel(38, 972, cOrange, ["Magnetic"]);
vlabel(60, 972, cOrange, ["susceptibility"]);
vlabel(84, 972, cOrange, ["fux,ODP Site 758"]);
vlabel(81, 1122, cSea, ["Sea level (m)"]);
// right
vlabel(773, 290, cOrange, ["Kaolinite/(Illite+Chlorite)"]);
vlabel(797, 296, cOrange, ["IODP Site U1456"]);
vlabel(779, 467, cRed, ["Mz (\u03bcm)"]);
vlabel(801, 462, cRed, ["IODP Site U1456"]);
vlabel(772, 608, cPink, ["TOC(%)"]);
vlabel(794, 612, cPink, ["IODP Site U1456"]);
vlabel(766, 757, cBlue731, [{t: "Globigerina", i: true}]);
vlabel(788, 757, cBlue731, [{t: "bulloides(%)", i: true}]);
vlabel(812, 757, cBlue731, ["ODP Site 731"]);
vlabel(766, 889, cNavy, ["Mn/Ca (\u03bcmol/M)"]);
vlabel(788, 886, cNavy, ["IODP Site U1467"]);
vlabel(779, 1050, cMaroon, ["PCO2 (ppmv)"], true);
</script>
</body>
</html>
